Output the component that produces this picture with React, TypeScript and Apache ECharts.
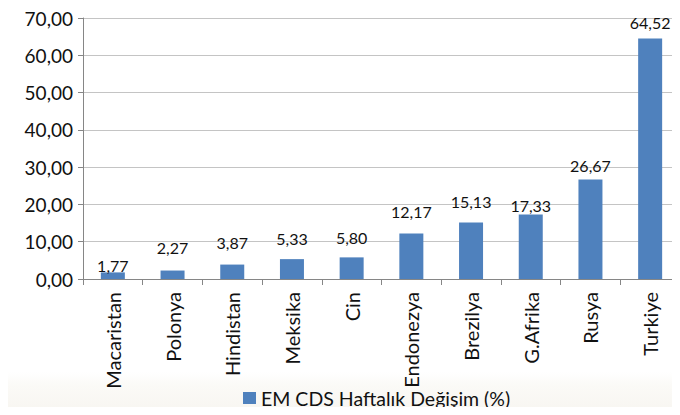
import React, { useEffect, useRef } from "react";
import * as echarts from "echarts";

const categories = ["Macaristan", "Polonya", "Hindistan", "Meksika", "Cin", "Endonezya", "Brezilya", "G.Afrika", "Rusya", "Turkiye"];
const values = [1.77, 2.27, 3.87, 5.33, 5.8, 12.17, 15.13, 17.33, 26.67, 64.52];
const seriesName = "EM CDS Haftalık Değişim (%)";

// label gap above each bar (styling only)
const labelGaps = [-1, 15, 14, 13, 12, 14, 13, 1, 6, 8];

const fmt = (v: number) => v.toFixed(2).replace(".", ",");
const FONT = "Lato, 'Noto Sans', sans-serif";

export default function App() {
  const ref = useRef<HTMLDivElement>(null);
  useEffect(() => {
    const chart = echarts.init(ref.current!, undefined, { renderer: "svg" });
    chart.setOption({
      animation: false,
      backgroundColor: "#ffffff",
      graphic: [
        {
          type: "rect",
          shape: { x: 0, y: 372, width: 680, height: 43 },
          style: {
            lineWidth: 0,
            fill: new echarts.graphic.LinearGradient(0, 0, 0, 1, [
              { offset: 0, color: "#ffffff" },
              { offset: 0.3, color: "#fbfaf7" },
              { offset: 1, color: "#f7f5f0" },
            ]),
          },
          z: -10,
        },
      ],
      grid: { left: 83, top: 18, width: 600, height: 261, containLabel: false },
      legend: {
        top: 388,
        left: 243,
        padding: 0,
        itemWidth: 13,
        itemHeight: 12,
        itemGap: 6,
        icon: "rect",
        textStyle: { fontFamily: FONT, fontSize: 19.5, color: "#111" },
        data: [seriesName],
      },
      xAxis: {
        type: "category",
        data: categories,
        axisLine: { lineStyle: { color: "#868686" } },
        axisTick: { show: true, alignWithLabel: false, length: 6, lineStyle: { color: "#868686" } },
        axisLabel: { rotate: 90, margin: 13, fontFamily: FONT, fontSize: 20, color: "#111", interval: 0 },
      },
      yAxis: {
        type: "value",
        min: 0,
        max: 70,
        interval: 10,
        axisLine: { show: true, lineStyle: { color: "#868686" } },
        axisTick: { show: true, length: 5, lineStyle: { color: "#868686" } },
        splitLine: { lineStyle: { color: "#c4c4c4" } },
        axisLabel: { formatter: (v: number) => fmt(v), fontFamily: FONT, fontSize: 19, color: "#111", margin: 10 },
      },
      series: [
        {
          name: seriesName,
          type: "bar",
          data: values.map((v, i) => ({ value: v, label: { distance: labelGaps[i] } })),
          barWidth: 24,
          itemStyle: { color: "#4f81bd" },
          label: {
            show: true,
            position: "top",
            distance: 10,
            formatter: (p: any) => fmt(p.value),
            fontFamily: FONT,
            fontSize: 16,
            color: "#111",
          },
        },
      ],
    });
    return () => chart.dispose();
  }, []);
  return <div ref={ref} style={{ width: 680, height: 415, margin: -8 }} />;
}
